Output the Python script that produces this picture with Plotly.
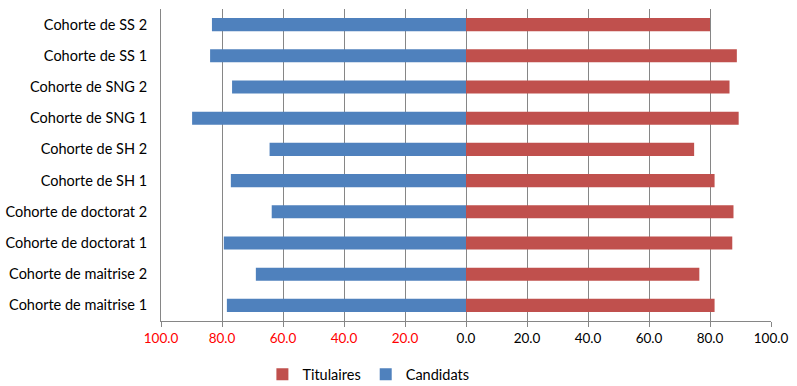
import plotly.graph_objects as go

categories = ["Cohorte de maitrise 1", "Cohorte de maitrise 2", "Cohorte de doctorat 1",
              "Cohorte de doctorat 2", "Cohorte de SH 1", "Cohorte de SH 2",
              "Cohorte de SNG 1", "Cohorte de SNG 2", "Cohorte de SS 1", "Cohorte de SS 2"]
titulaires = [81.5, 76.5, 87.3, 87.7, 81.5, 74.8, 89.4, 86.4, 88.8, 80.0]
candidats = [78.4, 68.9, 79.4, 63.7, 77.1, 64.4, 89.8, 76.7, 83.9, 83.3]
tick_vals = [-100, -80, -60, -40, -20, 0, 20, 40, 60, 80, 100]
tick_text = ['<span style="color:#FF0000">100.0</span>', '<span style="color:#FF0000">80.0</span>',
             '<span style="color:#FF0000">60.0</span>', '<span style="color:#FF0000">40.0</span>',
             '<span style="color:#FF0000">20.0</span>', "0.0", "20.0", "40.0", "60.0", "80.0", "100.0"]

fig = go.Figure()
fig.add_trace(go.Bar(y=categories, x=titulaires, orientation="h", name="Titulaires",
                     marker=dict(color="#C0504D", line=dict(width=0))))
fig.add_trace(go.Bar(y=categories, x=[-v for v in candidats], orientation="h", name="Candidats",
                     marker=dict(color="#4F81BD", line=dict(width=0)),
                     customdata=candidats, hovertemplate="%{y}: %{customdata}<extra>Candidats</extra>"))

fig.update_layout(
    width=797, height=386,
    barmode="relative", bargap=0.58,
    plot_bgcolor="white", paper_bgcolor="white",
    margin=dict(l=161, r=26, t=9, b=65, autoexpand=False),
    font=dict(family="Lato, Open Sans, sans-serif", size=13, color="#000000"),
    xaxis=dict(range=[-100, 100], tickvals=tick_vals, ticktext=tick_text,
               showgrid=True, gridcolor="#868686", gridwidth=1,
               zeroline=True, zerolinecolor="#868686", zerolinewidth=1,
               showline=True, linecolor="#868686", linewidth=1,
               ticks="outside", ticklen=5, tickcolor="#868686",
               tickfont=dict(size=13.5), automargin=False, fixedrange=True),
    yaxis=dict(showline=True, linecolor="#868686", linewidth=1, ticks="",
               tickfont=dict(size=14.5), ticklabelstandoff=10,
               automargin=False, fixedrange=True),
    legend=dict(orientation="h", x=0.34, xanchor="center", y=-0.12, yanchor="top",
                traceorder="normal", font=dict(size=14.5), itemwidth=30),
    showlegend=True,
)

fig.write_html("out.html", config={"displayModeBar": False},
               post_script="document.body.style.margin='0';document.body.style.overflow='hidden';")
